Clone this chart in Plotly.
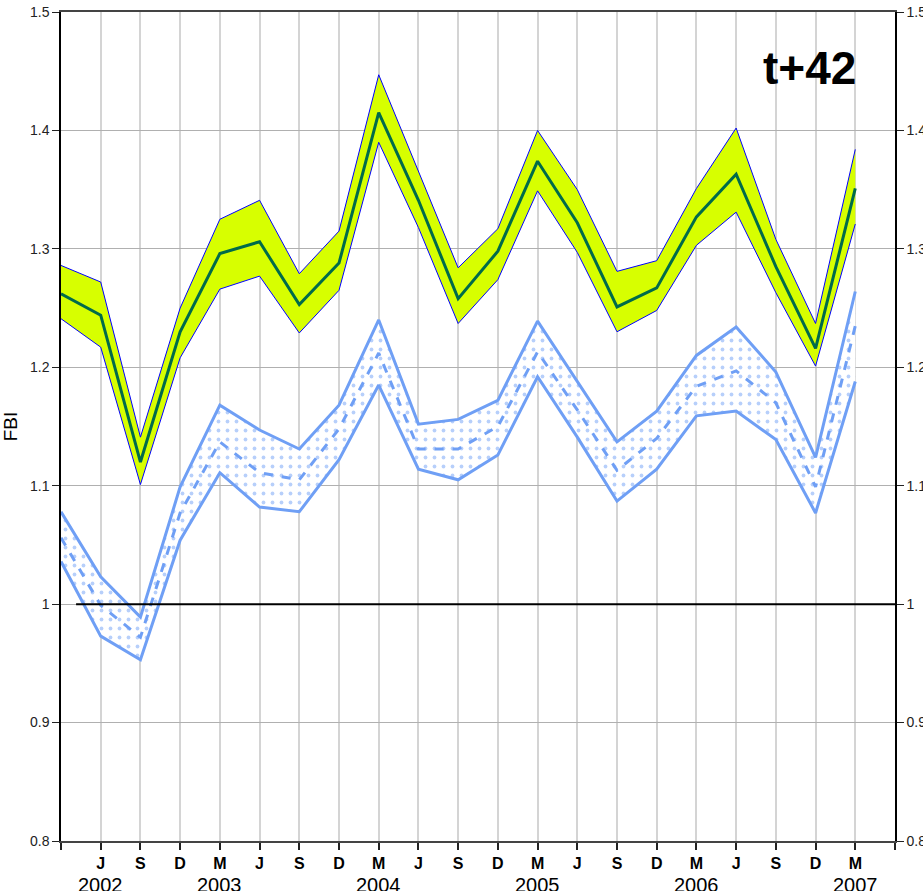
import plotly.graph_objects as go

# ---- data ----
quarter_labels = ["", "J", "S", "D", "M", "J", "S", "D", "M", "J", "S", "D",
                  "M", "J", "S", "D", "M", "J", "S", "D", "M", ""]
year_labels = ["2002", "2003", "2004", "2005", "2006", "2007"]
year_positions = [1, 4, 8, 12, 16, 20]

green_upper = [1.286, 1.272, 1.141, 1.250, 1.325, 1.341, 1.279, 1.315, 1.447, 1.365, 1.284,
               1.317, 1.400, 1.350, 1.281, 1.290, 1.351, 1.402, 1.308, 1.237, 1.384]
green_center = [1.262, 1.244, 1.120, 1.230, 1.296, 1.306, 1.253, 1.288, 1.415, 1.341, 1.258,
                1.298, 1.374, 1.322, 1.251, 1.267, 1.327, 1.363, 1.285, 1.216, 1.351]
green_lower = [1.241, 1.217, 1.101, 1.208, 1.266, 1.277, 1.229, 1.265, 1.390, 1.318, 1.237,
               1.274, 1.349, 1.297, 1.230, 1.248, 1.303, 1.331, 1.263, 1.201, 1.321]

blue_upper = [1.078, 1.023, 0.989, 1.099, 1.168, 1.147, 1.131, 1.168, 1.240, 1.152, 1.156,
              1.172, 1.239, 1.188, 1.137, 1.163, 1.210, 1.234, 1.196, 1.124, 1.264]
blue_center = [1.056, 0.999, 0.972, 1.077, 1.137, 1.111, 1.105, 1.148, 1.212, 1.131, 1.131,
               1.150, 1.213, 1.164, 1.113, 1.140, 1.184, 1.197, 1.170, 1.099, 1.235]
blue_lower = [1.036, 0.973, 0.953, 1.054, 1.111, 1.082, 1.078, 1.122, 1.185, 1.114, 1.105,
              1.126, 1.192, 1.141, 1.087, 1.114, 1.159, 1.163, 1.139, 1.077, 1.188]

ref_x = [0.38, 21]
ref_y = [1.0, 1.0]

x = list(range(len(green_center)))

FONT = "Liberation Sans, Arial, sans-serif"
BLUE = "#6f9ff5"
YELLOW = "#d7ff00"
DGREEN = "#006b4a"

fig = go.Figure()

# blue band
fig.add_trace(go.Scatter(x=x, y=blue_lower, mode="lines",
                         line=dict(color=BLUE, width=3), showlegend=False))
fig.add_trace(go.Scatter(x=x, y=blue_upper, mode="lines", fill="tonexty",
                         fillcolor="rgba(255,255,255,0)",
                         fillpattern=dict(shape=".", fgcolor=BLUE, bgcolor="white",
                                          size=9, solidity=0.14),
                         line=dict(color=BLUE, width=3), showlegend=False))
fig.add_trace(go.Scatter(x=x, y=blue_center, mode="lines",
                         line=dict(color=BLUE, width=3, dash="dash"), showlegend=False))

# green band
fig.add_trace(go.Scatter(x=x, y=green_lower, mode="lines",
                         line=dict(color="#0000ff", width=1), showlegend=False))
fig.add_trace(go.Scatter(x=x, y=green_upper, mode="lines", fill="tonexty",
                         fillcolor=YELLOW,
                         line=dict(color="#0000ff", width=1), showlegend=False))
fig.add_trace(go.Scatter(x=x, y=green_center, mode="lines",
                         line=dict(color=DGREEN, width=3), showlegend=False))

# reference line at 1
fig.add_trace(go.Scatter(x=ref_x, y=ref_y, mode="lines",
                         line=dict(color="black", width=2), showlegend=False))

# invisible trace for right axis
fig.add_trace(go.Scatter(x=[0], y=[1.0], yaxis="y2", mode="markers",
                         marker=dict(opacity=0), showlegend=False, hoverinfo="skip"))

annotations = []
for yl, yp in zip(year_labels, year_positions):
    annotations.append(dict(x=yp, y=-0.053, xref="x", yref="paper", text=yl,
                            showarrow=False, xanchor="center", yanchor="middle",
                            font=dict(family=FONT, size=20, color="black")))
annotations.append(dict(x=0.898, y=0.932, xref="paper", yref="paper", text="<b>t+42</b>",
                        showarrow=False, xanchor="center", yanchor="middle",
                        font=dict(family=FONT, size=46, color="black")))

fig.update_layout(
    width=923, height=891,
    margin=dict(l=61, r=28, t=12, b=50, autoexpand=False),
    paper_bgcolor="white", plot_bgcolor="white",
    font=dict(family=FONT, color="#222"),
    showlegend=False,
    annotations=annotations,
    xaxis=dict(range=[0, 21], tickmode="array", tickvals=list(range(22)),
               ticktext=["<b>%s</b>" % t for t in quarter_labels],
               tickfont=dict(family=FONT, size=16, color="black"),
               ticks="outside", ticklen=7, tickcolor="#222", tickwidth=1.5,
               showgrid=True, gridcolor="#d4d4d4", gridwidth=2,
               showline=True, linecolor="#444", linewidth=2, mirror=True,
               zeroline=False, automargin=False),
    yaxis=dict(range=[0.8, 1.5], dtick=0.1, tick0=0.8,
               tickfont=dict(family=FONT, size=14, color="#222"),
               ticks="outside", ticklen=7, tickcolor="#222",
               showgrid=True, gridcolor="#b0b0b0", gridwidth=1,
               showline=True, linecolor="black", linewidth=1.5,
               zeroline=False, automargin=False,
               title=dict(text="FBI", font=dict(family=FONT, size=19, color="black"),
                          standoff=7)),
    yaxis2=dict(range=[0.8, 1.5], dtick=0.1, tick0=0.8, overlaying="y", side="right",
                tickfont=dict(family=FONT, size=14, color="#222"),
                ticks="outside", ticklen=7, tickcolor="#222",
                showgrid=False, showline=True, linecolor="black", linewidth=1.5,
                zeroline=False, automargin=False),
)

fig.write_html("out.html")
